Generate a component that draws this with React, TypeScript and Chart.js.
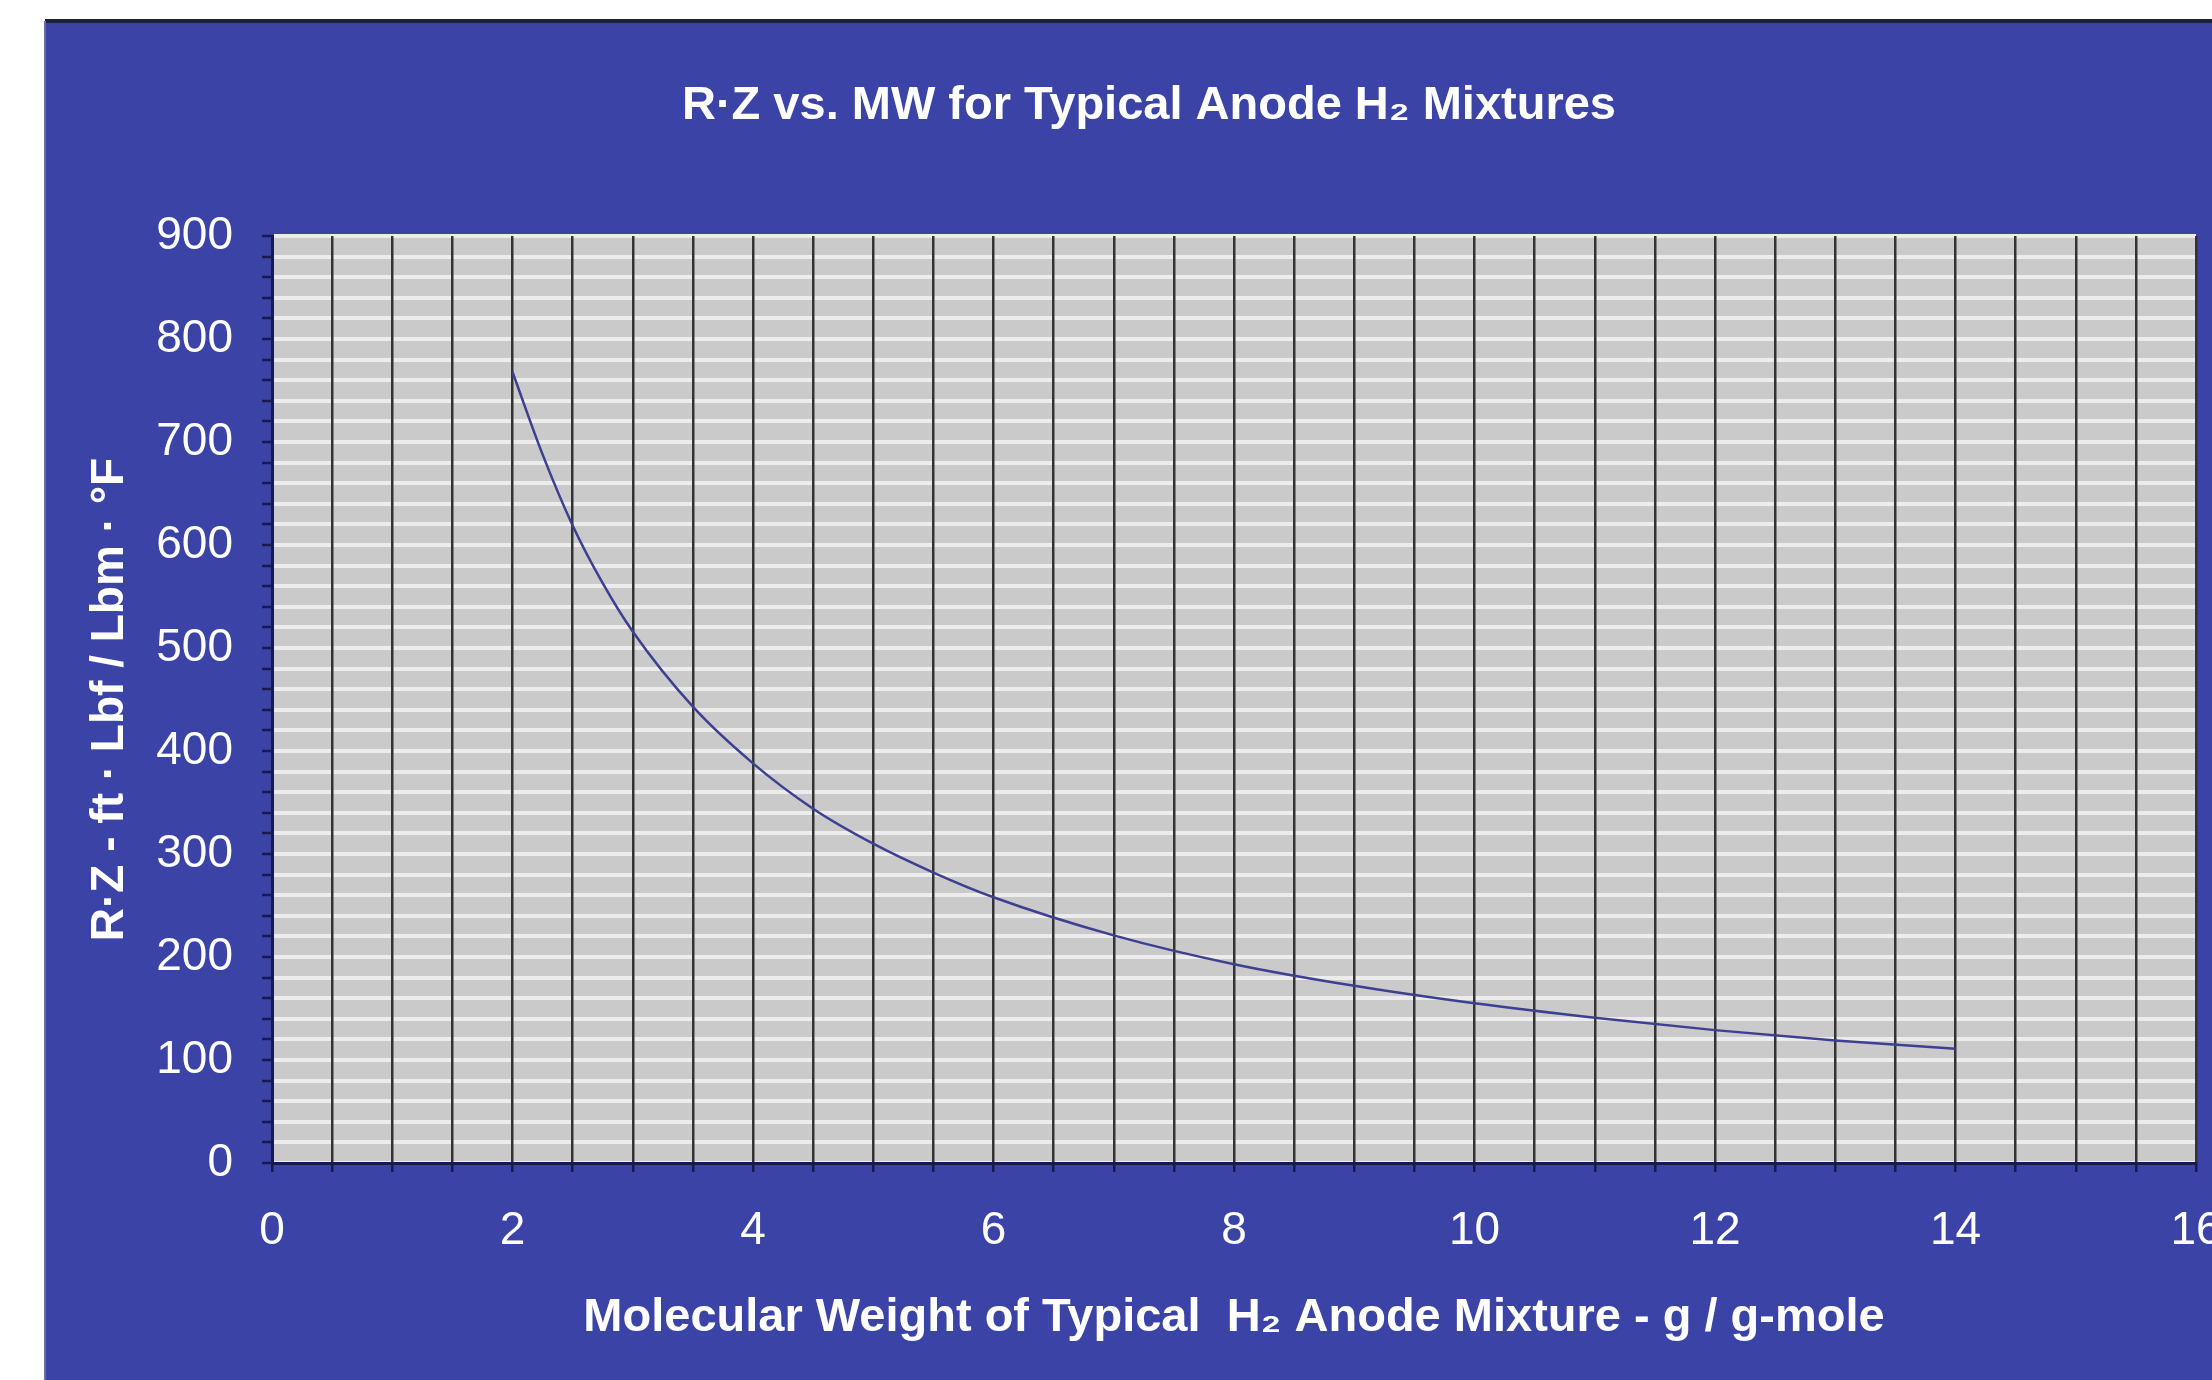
import React, { useEffect, useRef } from "react";
import { Chart, registerables } from "chart.js";

Chart.register(...registerables);

// Data
const molecularWeight = [2, 2.25, 2.5, 2.75, 3, 3.5, 4, 4.5, 5, 5.5, 6, 7, 8, 9, 10, 11, 12, 13, 14];
const rzValues = [768, 688, 619, 563, 516, 443, 388, 344, 310, 282, 258, 221, 193, 172, 155, 141, 129, 119, 111];
const xTickLabels = [0, 2, 4, 6, 8, 10, 12, 14, 16];
const yTickLabels = [0, 100, 200, 300, 400, 500, 600, 700, 800, 900];

const chartTitle = "R·Z vs. MW for Typical Anode H₂ Mixtures";
const xAxisTitle = "Molecular Weight of Typical  H₂ Anode Mixture - g / g-mole";
const yAxisTitle = "R·Z - ft · Lbf / Lbm · °F";

const FONT = "'Liberation Sans', Arial, Helvetica, sans-serif";
const PANEL_BLUE = "#3b44a6";
const AXIS_NAVY = "#161a4e";

const backgroundPlugin = {
  id: "panelBackground",
  beforeDraw(chart: any) {
    const { ctx, width, height, chartArea } = chart;
    ctx.save();
    ctx.fillStyle = "#ffffff";
    ctx.fillRect(0, 0, width, height);
    ctx.fillStyle = PANEL_BLUE;
    ctx.fillRect(45, 21, width - 45, height - 21);
    ctx.fillStyle = "#1c1f4d";
    ctx.fillRect(45, 19, width - 45, 4);
    ctx.fillStyle = "#6a6f9a";
    ctx.fillRect(44, 21, 2, height - 21);
    ctx.fillStyle = "#cacaca";
    ctx.fillRect(
      chartArea.left,
      chartArea.top,
      chartArea.right - chartArea.left,
      chartArea.bottom - chartArea.top
    );
    ctx.restore();
  },
};

export default function App() {
  const canvasRef = useRef<HTMLCanvasElement | null>(null);

  useEffect(() => {
    if (!canvasRef.current) return;
    const points = molecularWeight.map((x, i) => ({ x, y: rzValues[i] }));

    const chart = new Chart(canvasRef.current, {
      type: "line",
      data: {
        datasets: [
          {
            label: "R·Z",
            data: points,
            borderColor: "#3d3f92",
            borderWidth: 2.5,
            pointRadius: 0,
            fill: false,
            cubicInterpolationMode: "monotone",
          },
        ],
      },
      options: {
        animation: false,
        responsive: false,
        devicePixelRatio: 1,
        layout: { padding: { left: 102, right: 16, top: 0, bottom: 0 } },
        plugins: {
          legend: { display: false },
          tooltip: { enabled: false },
          title: {
            display: true,
            text: chartTitle,
            color: "#ffffff",
            font: { family: FONT, size: 47, weight: "bold" },
            padding: { top: 78, bottom: 101.6 },
          },
        },
        scales: {
          y: {
            type: "linear",
            min: 0,
            max: 900,
            afterFit(scale: any) {
              scale.width = 170;
              scale.paddingTop = 0;
              scale.paddingBottom = 0;
            },
            ticks: {
              stepSize: 20,
              maxTicksLimit: 100,
              autoSkip: false,
              color: "#ffffff",
              padding: 29,
              font: { family: FONT, size: 46 },
              callback: (v: any) => (yTickLabels.includes(Number(v)) ? String(v) : ""),
            },
            grid: {
              color: "#ececec",
              lineWidth: 4,
              tickColor: AXIS_NAVY,
              tickLength: 10,
              tickWidth: 2.5,
            },
            border: { color: AXIS_NAVY, width: 3 },
            title: {
              display: true,
              text: yAxisTitle,
              color: "#ffffff",
              font: { family: FONT, size: 46, weight: "bold" },
              padding: { top: -19.6, bottom: 0 },
            },
          },
          x: {
            type: "linear",
            min: 0,
            max: 16,
            afterFit(scale: any) {
              scale.height = 217;
              scale.paddingLeft = 0;
              scale.paddingRight = 0;
            },
            ticks: {
              stepSize: 0.5,
              maxTicksLimit: 100,
              autoSkip: false,
              maxRotation: 0,
              color: "#ffffff",
              padding: 32,
              font: { family: FONT, size: 46 },
              callback: (v: any) => (xTickLabels.includes(Number(v)) ? String(v) : ""),
            },
            grid: {
              color: "#333333",
              lineWidth: 2.5,
              tickColor: AXIS_NAVY,
              tickLength: 9,
              tickWidth: 2.5,
            },
            border: { color: AXIS_NAVY, width: 3 },
            title: {
              display: true,
              text: xAxisTitle,
              color: "#ffffff",
              font: { family: FONT, size: 47, weight: "bold" },
              padding: { top: 0, bottom: 34 },
            },
          },
        },
      },
      plugins: [backgroundPlugin],
    } as any);

    return () => chart.destroy();
  }, []);

  return (
    <div
      style={{
        position: "fixed",
        left: 0,
        top: 0,
        width: 2212,
        height: 1380,
        overflow: "hidden",
        background: "#ffffff",
      }}
    >
      <canvas ref={canvasRef} width={2212} height={1380} style={{ display: "block" }} />
    </div>
  );
}
